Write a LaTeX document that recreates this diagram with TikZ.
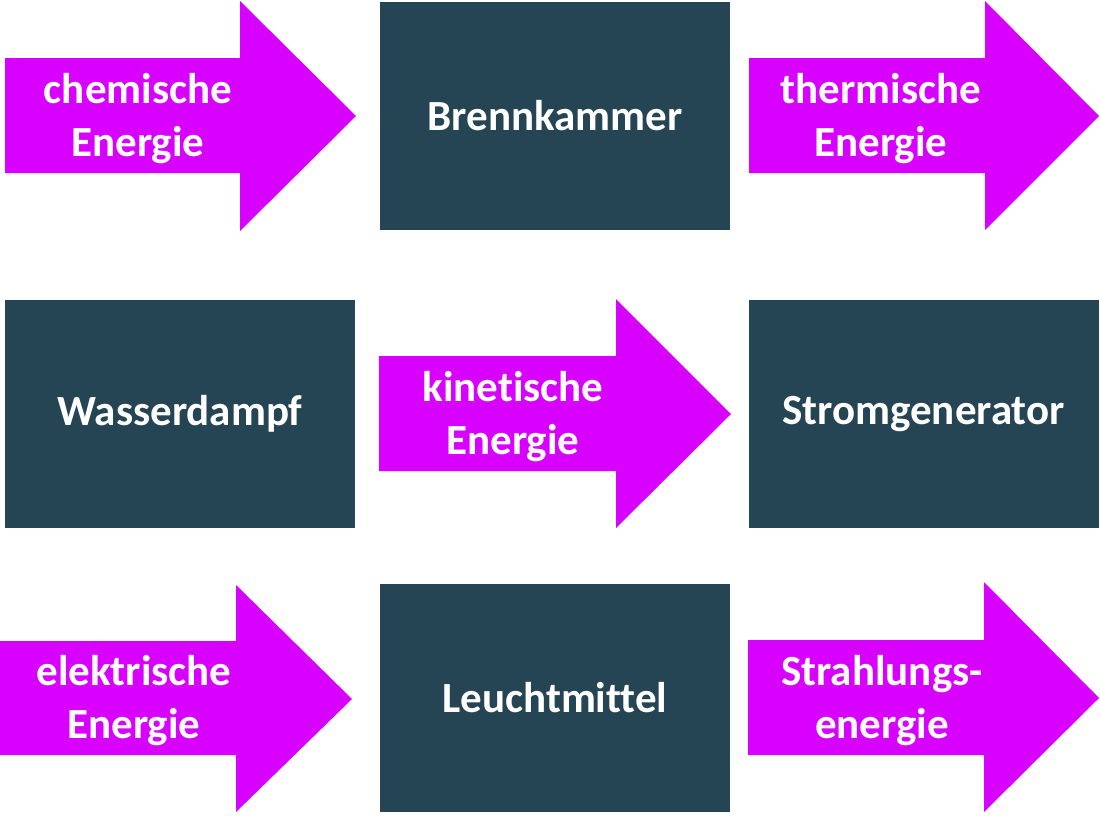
\documentclass[tikz,border=0pt]{standalone}
\usepackage{fontspec}
\setmainfont{Carlito}[Ligatures=NoCommon]
\definecolor{flowmag}{RGB}{216,0,255}
\definecolor{boxteal}{RGB}{37,68,84}
\begin{document}
\begin{tikzpicture}[x=1pt,y=-1pt,
  flow/.style={fill=flowmag,draw=none},
  stage/.style={fill=boxteal,draw=none,minimum width=350pt,minimum height=228pt,inner sep=0pt,
    text=white,font=\fontsize{43}{53}\selectfont\bfseries},
  flowtext/.style={text=white,align=center,inner sep=0pt,font=\fontsize{43}{53}\selectfont\bfseries}]
\useasboundingbox[fill=white] (0,0) rectangle (1100,815);
% arrows
\path[flow] (5,58) -- (240,58) -- (240,1) -- (356,116) -- (240,231) -- (240,173) -- (5,173) -- cycle;
\path[flow] (749,58) -- (985,58) -- (985,1) -- (1099,116) -- (985,230) -- (985,173) -- (749,173) -- cycle;
\path[flow] (379,356) -- (616,356) -- (616,299) -- (731,414) -- (616,528) -- (616,471) -- (379,471) -- cycle;
\path[flow] (0,641) -- (236,641) -- (236,585) -- (352,699) -- (236,812) -- (236,755) -- (0,755) -- cycle;
\path[flow] (748,640) -- (984,640) -- (984,582) -- (1099,698) -- (984,812) -- (984,755) -- (748,755) -- cycle;
% boxes
\node[stage] (brenn) at (555,115.5) {Brennkammer};
\node[stage] (wasser) at (180,414) {Wasserdampf};
\node[stage] (strom) at (923.5,414) {Stromgenerator};
\node[stage] (leucht) at (555,698) {Leuchtmittel};
% arrow labels
\node[flowtext] (chem) at (138,119) {chemische\\Energie};
\node[flowtext] (therm) at (881,119) {thermische\\Energie};
\node[flowtext] (kin) at (513,417) {kinetische\\Energie};
\node[flowtext] (elek) at (134,701) {elektrische\\Energie};
\node[flowtext] (strahl) at (882,701) {Strahlungs-\\energie};
\end{tikzpicture}
\end{document}
